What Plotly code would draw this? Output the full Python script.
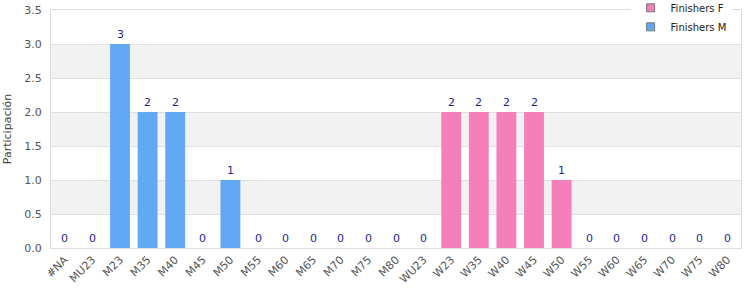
import plotly.graph_objects as go

categories = ["#NA", "MU23", "M23", "M35", "M40", "M45", "M50", "M55", "M60", "M65",
              "M70", "M75", "M80", "WU23", "W23", "W35", "W40", "W45", "W50", "W55",
              "W60", "W65", "W70", "W75", "W80"]
finishers_f = [0, 0, 0, 0, 0, 0, 0, 0, 0, 0, 0, 0, 0, 0, 2, 2, 2, 2, 1, 0, 0, 0, 0, 0, 0]
finishers_m = [0, 0, 3, 2, 2, 0, 1, 0, 0, 0, 0, 0, 0, 0, 0, 0, 0, 0, 0, 0, 0, 0, 0, 0, 0]
totals = [f + m for f, m in zip(finishers_f, finishers_m)]

pink = "#f47fb9"
blue = "#62a9f5"

fig = go.Figure()
fig.add_trace(go.Bar(x=categories, y=finishers_f, name="Finishers F", showlegend=False,
                     marker=dict(color=pink, line=dict(width=0)), width=0.72))
fig.add_trace(go.Bar(x=categories, y=finishers_m, name="Finishers M", showlegend=False,
                     marker=dict(color=blue, line=dict(width=0)), width=0.72))
# legend entries
for nm, col in [("Finishers F", pink), ("Finishers M", blue)]:
    fig.add_trace(go.Scatter(x=[None], y=[None], mode="markers", name=nm,
                             marker=dict(symbol="square", size=8, color=col,
                                         line=dict(color="#777777", width=1))))

for c, v in zip(categories, totals):
    fig.add_annotation(x=c, y=v, text=str(v), showarrow=False, yanchor="bottom", yshift=1,
                       font=dict(color="#1f1f8f", size=11, family="DejaVu Sans"))

# alternating bands
for y0 in [0.5, 1.5, 2.5]:
    fig.add_shape(type="rect", xref="paper", yref="y", x0=0, x1=1, y0=y0, y1=y0 + 0.5,
                  fillcolor="#f2f2f2", line=dict(width=0), layer="below")

fig.update_layout(
    width=750, height=300,
    margin=dict(l=51, r=9, t=10, b=52, autoexpand=False),
    barmode="overlay",
    plot_bgcolor="white", paper_bgcolor="white",
    font=dict(family="DejaVu Sans", size=11, color="#444"),
    legend=dict(x=0.84, y=1.07, xanchor="left", yanchor="top", bgcolor="white",
                font=dict(size=10, color="#222"), itemwidth=30, tracegroupgap=0,
                traceorder="normal", borderwidth=0),
    xaxis=dict(tickangle=-45, showline=True, linecolor="#dddddd", mirror=True,
               tickfont=dict(size=11, color="#555"), ticks="", range=[-0.5, 24.5]),
    yaxis=dict(range=[0, 3.5], dtick=0.5, tickformat=".1f", showgrid=True,
               gridcolor="#e0e0e0", showline=True, linecolor="#dddddd", mirror=True,
               zeroline=False, tickfont=dict(size=11, color="#555"), ticklabelstandoff=6,
               title=dict(text="Participación", font=dict(size=11, color="#444"), standoff=10)),
)

fig.write_html("out.html")
